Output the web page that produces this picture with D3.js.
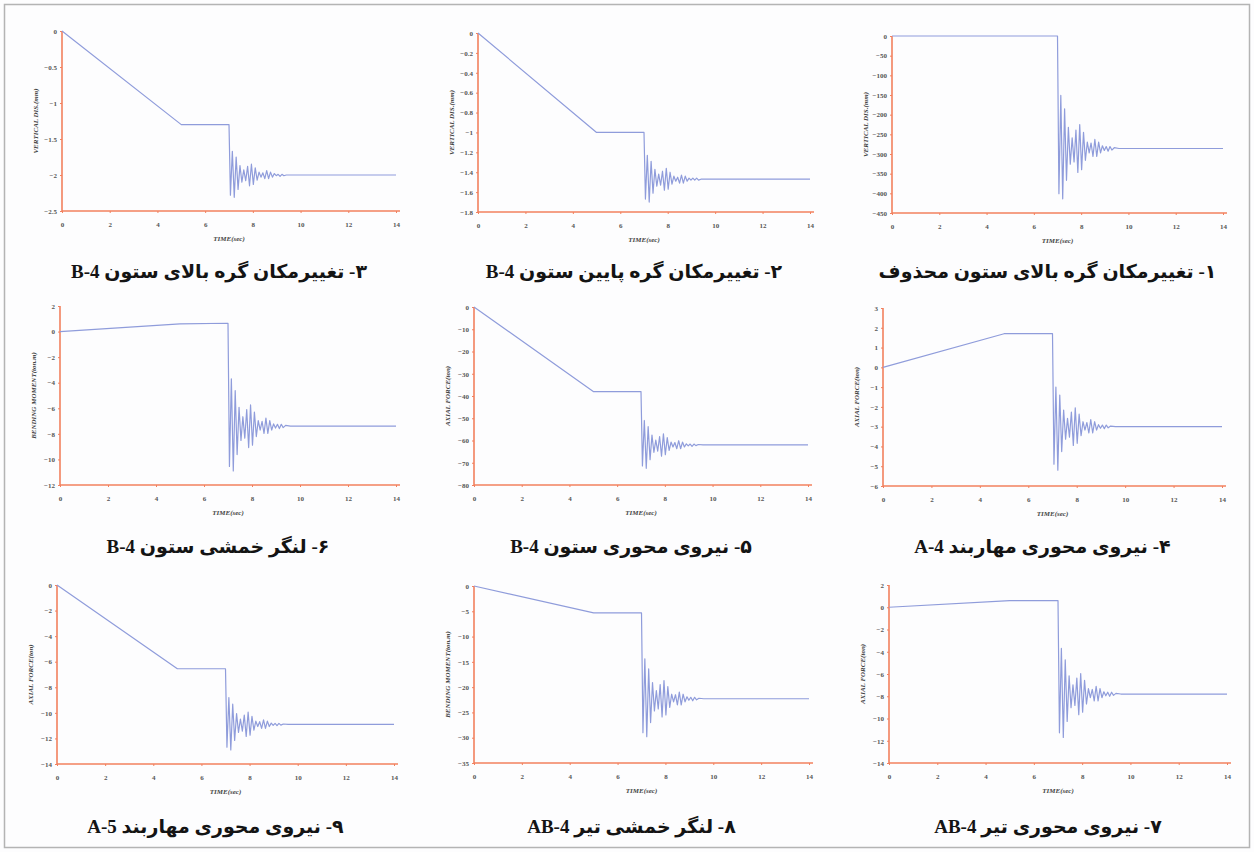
<!DOCTYPE html>
<html>
<head>
<meta charset="utf-8">
<script src="https://cdn.jsdelivr.net/npm/d3@7"></script>
<style>
  body { margin: 0; background: #fff; }
  .tick text { font-family: "Liberation Serif", serif; font-size: 7px; font-weight: bold; fill: #555; }
  .axlab { font-family: "Liberation Serif", serif; font-size: 7px; font-weight: bold; font-style: italic; fill: #444; }
  .cap { font-family: "Liberation Serif", "DejaVu Sans", serif; font-size: 19px; font-weight: bold; fill: #141414; }
</style>
</head>
<body>
<div id="chart"></div>
<script>
// Data
// time (sec) shared by all nine records
const times = [0, 5, 7,
  7.06, 7.14, 7.22, 7.30, 7.38, 7.46, 7.54, 7.62, 7.70, 7.78,
  7.86, 7.94, 8.02, 8.10, 8.18, 8.26, 8.34, 8.42, 8.50, 8.58,
  8.66, 8.74, 8.82, 8.90, 8.98, 9.06, 9.14, 9.22, 9.30, 9.40,
  9.60, 14]
const xTicks = [0, 2, 4, 6, 8, 10, 12, 14]

const v1 = [0, 0, 0, -401, -151, -414, -185, -367, -232, -326, -259, -320, -239,
  -347, -225, -340, -245, -316, -270, -297, -272, -306, -263,
  -306, -270, -297, -279, -291, -281, -293, -281, -290, -284, -286, -286]
const v2 = [0, -1.0, -1.0, -1.67, -1.23, -1.70, -1.29, -1.61, -1.37, -1.54, -1.42, -1.53, -1.39,
  -1.58, -1.36, -1.57, -1.40, -1.52, -1.44, -1.49, -1.45, -1.51, -1.43,
  -1.51, -1.44, -1.49, -1.46, -1.48, -1.46, -1.48, -1.46, -1.48, -1.47, -1.47, -1.47]
const v3 = [0, -1.30, -1.30, -2.28, -1.67, -2.31, -1.75, -2.20, -1.87, -2.10, -1.93, -2.08, -1.88,
  -2.15, -1.85, -2.13, -1.90, -2.07, -1.96, -2.03, -1.97, -2.05, -1.94,
  -2.05, -1.96, -2.03, -1.98, -2.01, -1.99, -2.02, -1.99, -2.01, -2.0, -2.0, -2.0]
const v4 = [0, 1.7, 1.7, -4.9, -1.0, -5.2, -1.4, -4.26, -2.16, -3.63, -2.58, -3.53, -2.26,
  -3.95, -2.05, -3.84, -2.37, -3.46, -2.75, -3.17, -2.79, -3.32, -2.64,
  -3.32, -2.75, -3.17, -2.9, -3.08, -2.92, -3.1, -2.92, -3.06, -2.97, -3, -3]
const v5 = [0, -38, -38, -71.4, -51, -72.5, -53.8, -68.6, -57.6, -65.3, -59.8, -64.8, -58.2,
  -67, -57, -66.4, -58.7, -64.4, -60.7, -62.9, -60.9, -63.7, -60.1,
  -63.7, -60.7, -62.9, -61.5, -62.4, -61.6, -62.6, -61.6, -62.3, -61.8, -62, -62]
const v6 = [0, 0.6, 0.65, -10.55, -3.7, -10.9, -4.62, -9.62, -5.92, -8.51, -6.66, -8.33, -6.1,
  -9.07, -5.74, -8.88, -6.29, -8.21, -6.96, -7.7, -7.03, -7.96, -6.77,
  -7.96, -6.96, -7.7, -7.22, -7.55, -7.25, -7.59, -7.25, -7.51, -7.34, -7.4, -7.4]
const v7 = [0, 0.6, 0.6, -11.29, -3.7, -11.7, -4.72, -10.26, -6.16, -9.03, -6.98, -8.83, -6.37,
  -9.65, -5.96, -9.44, -6.57, -8.7, -7.31, -8.13, -7.39, -8.42, -7.1,
  -8.42, -7.31, -8.13, -7.6, -7.96, -7.64, -8.0, -7.64, -7.92, -7.74, -7.8, -7.8]
const v8 = [0, -5.3, -5.3, -29.0, -14.4, -29.8, -16.4, -27.0, -19.1, -24.7, -20.7, -24.3, -19.5,
  -25.9, -18.7, -25.5, -19.9, -24.0, -21.4, -22.9, -21.5, -23.5, -21.0,
  -23.5, -21.4, -22.9, -21.9, -22.6, -22.0, -22.7, -22.0, -22.5, -22.2, -22.3, -22.3]
const v9 = [0, -6.55, -6.55, -12.69, -8.8, -12.9, -9.32, -12.16, -10.06, -11.53, -10.48, -11.43, -10.17,
  -11.85, -9.95, -11.74, -10.27, -11.36, -10.65, -11.07, -10.69, -11.22, -10.54,
  -11.22, -10.65, -11.07, -10.8, -10.98, -10.82, -11.0, -10.82, -10.96, -10.87, -10.9, -10.9]

const yTicks1 = [0, -50, -100, -150, -200, -250, -300, -350, -400, -450]
const yTicks2 = [0, -0.2, -0.4, -0.6, -0.8, -1, -1.2, -1.4, -1.6, -1.8]
const yTicks3 = [0, -0.5, -1, -1.5, -2, -2.5]
const yTicks4 = [3, 2, 1, 0, -1, -2, -3, -4, -5, -6]
const yTicks5 = [0, -10, -20, -30, -40, -50, -60, -70, -80]
const yTicks6 = [2, 0, -2, -4, -6, -8, -10, -12]
const yTicks7 = [2, 0, -2, -4, -6, -8, -10, -12, -14]
const yTicks8 = [0, -5, -10, -15, -20, -25, -30, -35]
const yTicks9 = [0, -2, -4, -6, -8, -10, -12, -14]

const captions = [
  '۱- تغییرمکان گره بالای ستون محذوف',
  '۲- تغییرمکان گره پایین ستون B-4',
  '۳- تغییرمکان گره بالای ستون B-4',
  '۴- نیروی محوری مهاربند A-4',
  '۵- نیروی محوری ستون B-4',
  '۶- لنگر خمشی ستون B-4',
  '۷- نیروی محوری تیر AB-4',
  '۸- لنگر خمشی تیر AB-4',
  '۹- نیروی محوری مهاربند A-5'
]
const yLabels = [
  'VERTICAL DIS.(mm)', 'VERTICAL DIS.(mm)', 'VERTICAL DIS.(mm)',
  'AXIAL FORCE(ton)', 'AXIAL FORCE(ton)', 'BENDING MOMENT(ton.m)',
  'AXIAL FORCE(ton)', 'BENDING MOMENT(ton.m)', 'AXIAL FORCE(ton)'
]
const xLabel = 'TIME(sec)'

const series = [v1, v2, v3, v4, v5, v6, v7, v8, v9]
const yTickSets = [yTicks1, yTicks2, yTicks3, yTicks4, yTicks5, yTicks6, yTicks7, yTicks8, yTicks9]

// Layout (plot box of each panel: left, right, top, bottom)
const boxes = [
  [892, 1223, 36, 213], [478, 810, 33, 212], [62, 396, 31, 211],
  [883, 1222, 308, 486], [474, 808, 307, 485], [60, 396, 306, 485],
  [889, 1227, 585, 763], [474, 809, 586, 763], [57, 394, 585, 764]
]
const capY = [278, 278, 278, 553, 553, 553, 833, 833, 833]

const width = 1254, height = 852
const axisColor = '#f2805e'
const lineColor = '#8f9cdb'

const svg = d3.select('#chart')
  .append('svg')
  .attr('width', width)
  .attr('height', height)

svg.append('rect')
  .attr('width', width).attr('height', height)
  .attr('fill', '#fdfdfe')

svg.append('rect')
  .attr('x', 4.5).attr('y', 4.5)
  .attr('width', width - 9).attr('height', height - 9)
  .attr('fill', 'none')
  .attr('stroke', '#b4b4b4')
  .attr('stroke-width', 1.5)

series.forEach((vals, i) => {
  const [x0, x1, yT, yB] = boxes[i]
  const ticks = yTickSets[i]
  const data = times.map((t, j) => [t, vals[j]])

  const x = d3.scaleLinear().domain([0, 14]).range([x0, x1])
  const y = d3.scaleLinear().domain(d3.extent(ticks)).range([yB, yT])

  const g = svg.append('g')

  // y axis
  const yAxis = g.append('g')
    .attr('transform', `translate(${x0},0)`)
    .call(d3.axisLeft(y).tickValues(ticks).tickSize(2).tickPadding(3).tickFormat(d3.format('~g')))
  yAxis.select('.domain').attr('stroke', axisColor).attr('stroke-width', 1.6)
    .attr('d', `M0,${yT}V${yB}`)
  yAxis.selectAll('.tick line').attr('stroke', axisColor)

  // x axis
  const xAxis = g.append('g')
    .attr('transform', `translate(0,${yB})`)
    .call(d3.axisBottom(x).tickValues(xTicks).tickSize(2).tickPadding(9).tickFormat(d3.format('d')))
  xAxis.select('.domain').attr('stroke', axisColor).attr('stroke-width', 1.6)
    .attr('d', `M${x0},0H${x1 + 4}`)
  xAxis.selectAll('.tick line').attr('stroke', axisColor)

  // line
  g.append('path')
    .datum(data)
    .attr('fill', 'none')
    .attr('stroke', lineColor)
    .attr('stroke-width', 1.2)
    .attr('stroke-linejoin', 'round')
    .attr('d', d3.line().x(d => x(d[0])).y(d => y(d[1])))

  // axis labels
  g.append('text')
    .attr('class', 'axlab')
    .attr('x', (x0 + x1) / 2)
    .attr('y', yB + 30)
    .attr('text-anchor', 'middle')
    .text(xLabel)

  g.append('text')
    .attr('class', 'axlab')
    .attr('transform', `translate(${x0 - 24},${(yT + yB) / 2}) rotate(-90)`)
    .attr('text-anchor', 'middle')
    .text(yLabels[i])

  // caption
  g.append('text')
    .attr('class', 'cap')
    .attr('x', (x0 + x1) / 2 - 10)
    .attr('y', capY[i])
    .attr('text-anchor', 'middle')
    .attr('direction', 'rtl')
    .text(captions[i])
})
</script>
</body>
</html>
